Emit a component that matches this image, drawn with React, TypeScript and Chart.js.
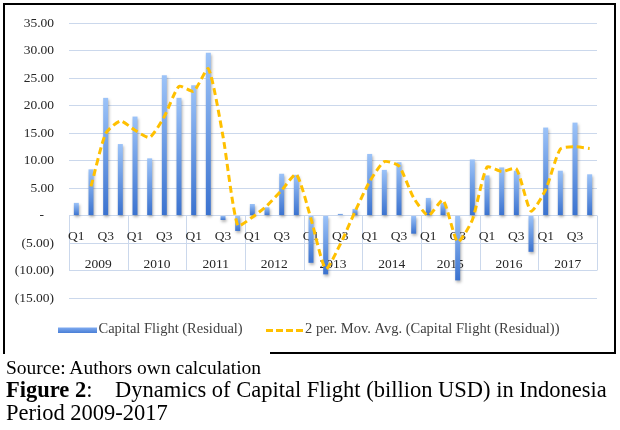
import React, { useEffect, useRef } from 'react';
import { Chart, registerables } from 'chart.js';

Chart.register(...registerables);

const years = ['2009', '2010', '2011', '2012', '2013', '2014', '2015', '2016', '2017'];
const quarters = ['Q1', 'Q2', 'Q3', 'Q4'];
const shownQuarters = ['Q1', 'Q3'];
const categories = years.flatMap((y) => quarters.map((q) => `${y} ${q}`));

const capitalFlight = [
  2.3, 8.4, 21.4, 13.0,
  18.0, 10.4, 25.5, 21.4,
  23.7, 29.6, -0.8, -2.8,
  2.1, 1.5, 7.6, 7.4,
  -8.6, -10.7, 0.3, 1.2,
  11.2, 8.3, 9.7, -3.3,
  3.2, 2.3, -11.8, 10.2,
  7.3, 8.75, 8.15, -6.6,
  16.0, 8.15, 16.9, 7.5,
];

const movingAvg = [
  null, 5.3, 14.9, 17.2,
  15.5, 14.2, 18.0, 23.5,
  22.6, 26.7, 14.4, -1.8,
  -0.3, 1.8, 4.6, 7.5,
  -0.6, -9.7, -5.2, 0.7,
  6.2, 9.8, 9.0, 3.2,
  0.0, 2.8, -4.8, -0.8,
  8.8, 8.0, 8.5, 0.8,
  4.7, 12.1, 12.5, 12.2,
];

const yTicks = { min: -15, max: 35, step: 5 };
const seriesLabels = ['Capital Flight (Residual)', '2 per. Mov. Avg. (Capital Flight (Residual))'];

const GRID = '#cbd8ec';
const TXT = '#262626';
const FONT = '"Liberation Serif", "Times New Roman", serif';

const formatTick = (v: number) => {
  if (v === 0) return '-   ';
  if (v < 0) return `(${Math.abs(v).toFixed(2)})`;
  return v.toFixed(2);
};

const barShadow = {
  id: 'barShadow',
  beforeDatasetDraw(chart: any, args: any) {
    if (args.index === 0) {
      const c = chart.ctx;
      c.save();
      c.shadowColor = 'rgba(0,0,0,0.3)';
      c.shadowBlur = 3;
      c.shadowOffsetX = 1;
      c.shadowOffsetY = 2;
    }
  },
  afterDatasetDraw(chart: any, args: any) {
    if (args.index === 0) chart.ctx.restore();
  },
};

const axisTable = {
  id: 'axisTable',
  beforeDatasetsDraw(chart: any) {
    const { ctx, scales } = chart;
    const x = scales.x;
    const y = scales.y;
    const y0 = y.getPixelForValue(0);
    const yLow = y.getPixelForValue(-10);
    const step = x.getPixelForValue(1) - x.getPixelForValue(0);
    ctx.save();
    ctx.strokeStyle = GRID;
    ctx.lineWidth = 1;
    for (let k = 0; k <= years.length; k++) {
      const xp = Math.round(x.getPixelForValue(k * 4) - step / 2) + 0.5;
      ctx.beginPath();
      ctx.moveTo(xp, y0);
      ctx.lineTo(xp, yLow);
      ctx.stroke();
    }
    ctx.fillStyle = TXT;
    ctx.font = `13.5px ${FONT}`;
    ctx.textAlign = 'center';
    ctx.textBaseline = 'middle';
    categories.forEach((_, i) => {
      const q = quarters[i % 4];
      if (shownQuarters.includes(q)) ctx.fillText(q, x.getPixelForValue(i), y0 + 20.5);
    });
    years.forEach((yr, k) => {
      const cx = (x.getPixelForValue(k * 4) + x.getPixelForValue(k * 4 + 3)) / 2;
      ctx.fillText(yr, cx, y0 + 48.5);
    });
    ctx.restore();
  },
};

const customLegend = {
  id: 'customLegend',
  afterDraw(chart: any) {
    const { ctx } = chart;
    const ds = chart.data.datasets;
    const yc = 330.5;
    ctx.save();
    const g = ctx.createLinearGradient(0, 327.5, 0, 333);
    g.addColorStop(0, '#7eaaf0');
    g.addColorStop(1, '#4a7fd6');
    ctx.fillStyle = g;
    ctx.fillRect(58, 327.5, 39, 5.5);
    ctx.font = `14.5px ${FONT}`;
    ctx.fillStyle = '#404040';
    ctx.textAlign = 'left';
    ctx.textBaseline = 'middle';
    ctx.fillText(ds[0].label, 98.5, yc - 1);
    ctx.strokeStyle = '#ffc000';
    ctx.lineWidth = 3;
    ctx.setLineDash([7, 3]);
    ctx.beginPath();
    ctx.moveTo(266, yc);
    ctx.lineTo(303, yc);
    ctx.stroke();
    ctx.setLineDash([]);
    ctx.fillText(ds[1].label, 305, yc - 1);
    ctx.restore();
  },
};

export default function App() {
  const ref = useRef<HTMLCanvasElement | null>(null);

  useEffect(() => {
    if (!ref.current) return;
    const chart = new Chart(ref.current, {
      type: 'bar',
      data: {
        labels: categories,
        datasets: [
          {
            type: 'bar',
            label: seriesLabels[0],
            data: capitalFlight,
            order: 1,
            categoryPercentage: 1,
            barPercentage: 0.34,
            backgroundColor: (c: any) => {
              const chart = c.chart;
              const y = chart.scales && chart.scales.y;
              if (!y || c.type !== 'data') return '#6a9be6';
              const v = c.raw as number;
              const p0 = y.getPixelForValue(0);
              const p1 = y.getPixelForValue(v);
              const top = Math.min(p0, p1);
              const bot = Math.max(p0, p1);
              if (!isFinite(top) || bot - top < 1) return '#6a9be6';
              const g = chart.ctx.createLinearGradient(0, top, 0, bot);
              g.addColorStop(0, '#9cc3f8');
              g.addColorStop(1, '#3a72cf');
              return g;
            },
          } as any,
          {
            type: 'line',
            label: seriesLabels[1],
            data: movingAvg,
            order: 0,
            borderColor: '#ffc000',
            borderWidth: 3,
            borderDash: [7, 4],
            pointRadius: 0,
            tension: 0.2,
            fill: false,
          } as any,
        ],
      },
      options: {
        responsive: false,
        animation: false,
        devicePixelRatio: 1,
        layout: { padding: { left: 0, right: 23, top: 21, bottom: 54 } },
        plugins: { legend: { display: false }, tooltip: { enabled: false } },
        scales: {
          x: { display: false, offset: true },
          y: {
            min: yTicks.min,
            max: yTicks.max,
            border: { display: false },
            grid: { color: GRID, drawTicks: false, lineWidth: 1 },
            ticks: {
              stepSize: yTicks.step,
              padding: 15,
              color: TXT,
              font: { family: FONT, size: 13.5 },
              callback: (v: any) => formatTick(Number(v)),
            },
            afterFit: (s: any) => {
              s.width = 69;
            },
          },
        },
      } as any,
      plugins: [barShadow, axisTable, customLegend],
    });
    return () => chart.destroy();
  }, []);

  const txt: React.CSSProperties = {
    position: 'absolute',
    whiteSpace: 'nowrap',
    color: '#000',
    fontFamily: FONT,
  };

  return (
    <div
      style={{
        position: 'absolute',
        left: 0,
        top: 0,
        width: 620,
        height: 430,
        background: '#fff',
        overflow: 'hidden',
        fontFamily: FONT,
      }}
    >
      <canvas ref={ref} width={620} height={352} style={{ position: 'absolute', left: 0, top: 0, width: 620, height: 352 }} />
      <div
        style={{
          position: 'absolute',
          left: 3,
          top: 3,
          width: 613,
          height: 351,
          boxSizing: 'border-box',
          borderLeft: '2px solid #000',
          borderTop: '2px solid #000',
          borderRight: '2px solid #000',
          pointerEvents: 'none',
        }}
      />
      <div style={{ position: 'absolute', left: 270, top: 352, width: 346, height: 2, background: '#000' }} />
      <div style={{ ...txt, left: 6, top: 357.7, fontSize: 19.5, lineHeight: '19.5px' }}>Source: Authors own calculation</div>
      <div style={{ ...txt, left: 6, top: 379.2, fontSize: 22.5, lineHeight: '22.5px' }}>
        <b>Figure 2</b>:
      </div>
      <div style={{ ...txt, left: 115, top: 379.2, fontSize: 22.5, lineHeight: '22.5px' }}>
        Dynamics of Capital Flight (billion USD) in Indonesia
      </div>
      <div style={{ ...txt, left: 6, top: 402.2, fontSize: 22.5, lineHeight: '22.5px' }}>Period 2009-2017</div>
    </div>
  );
}
